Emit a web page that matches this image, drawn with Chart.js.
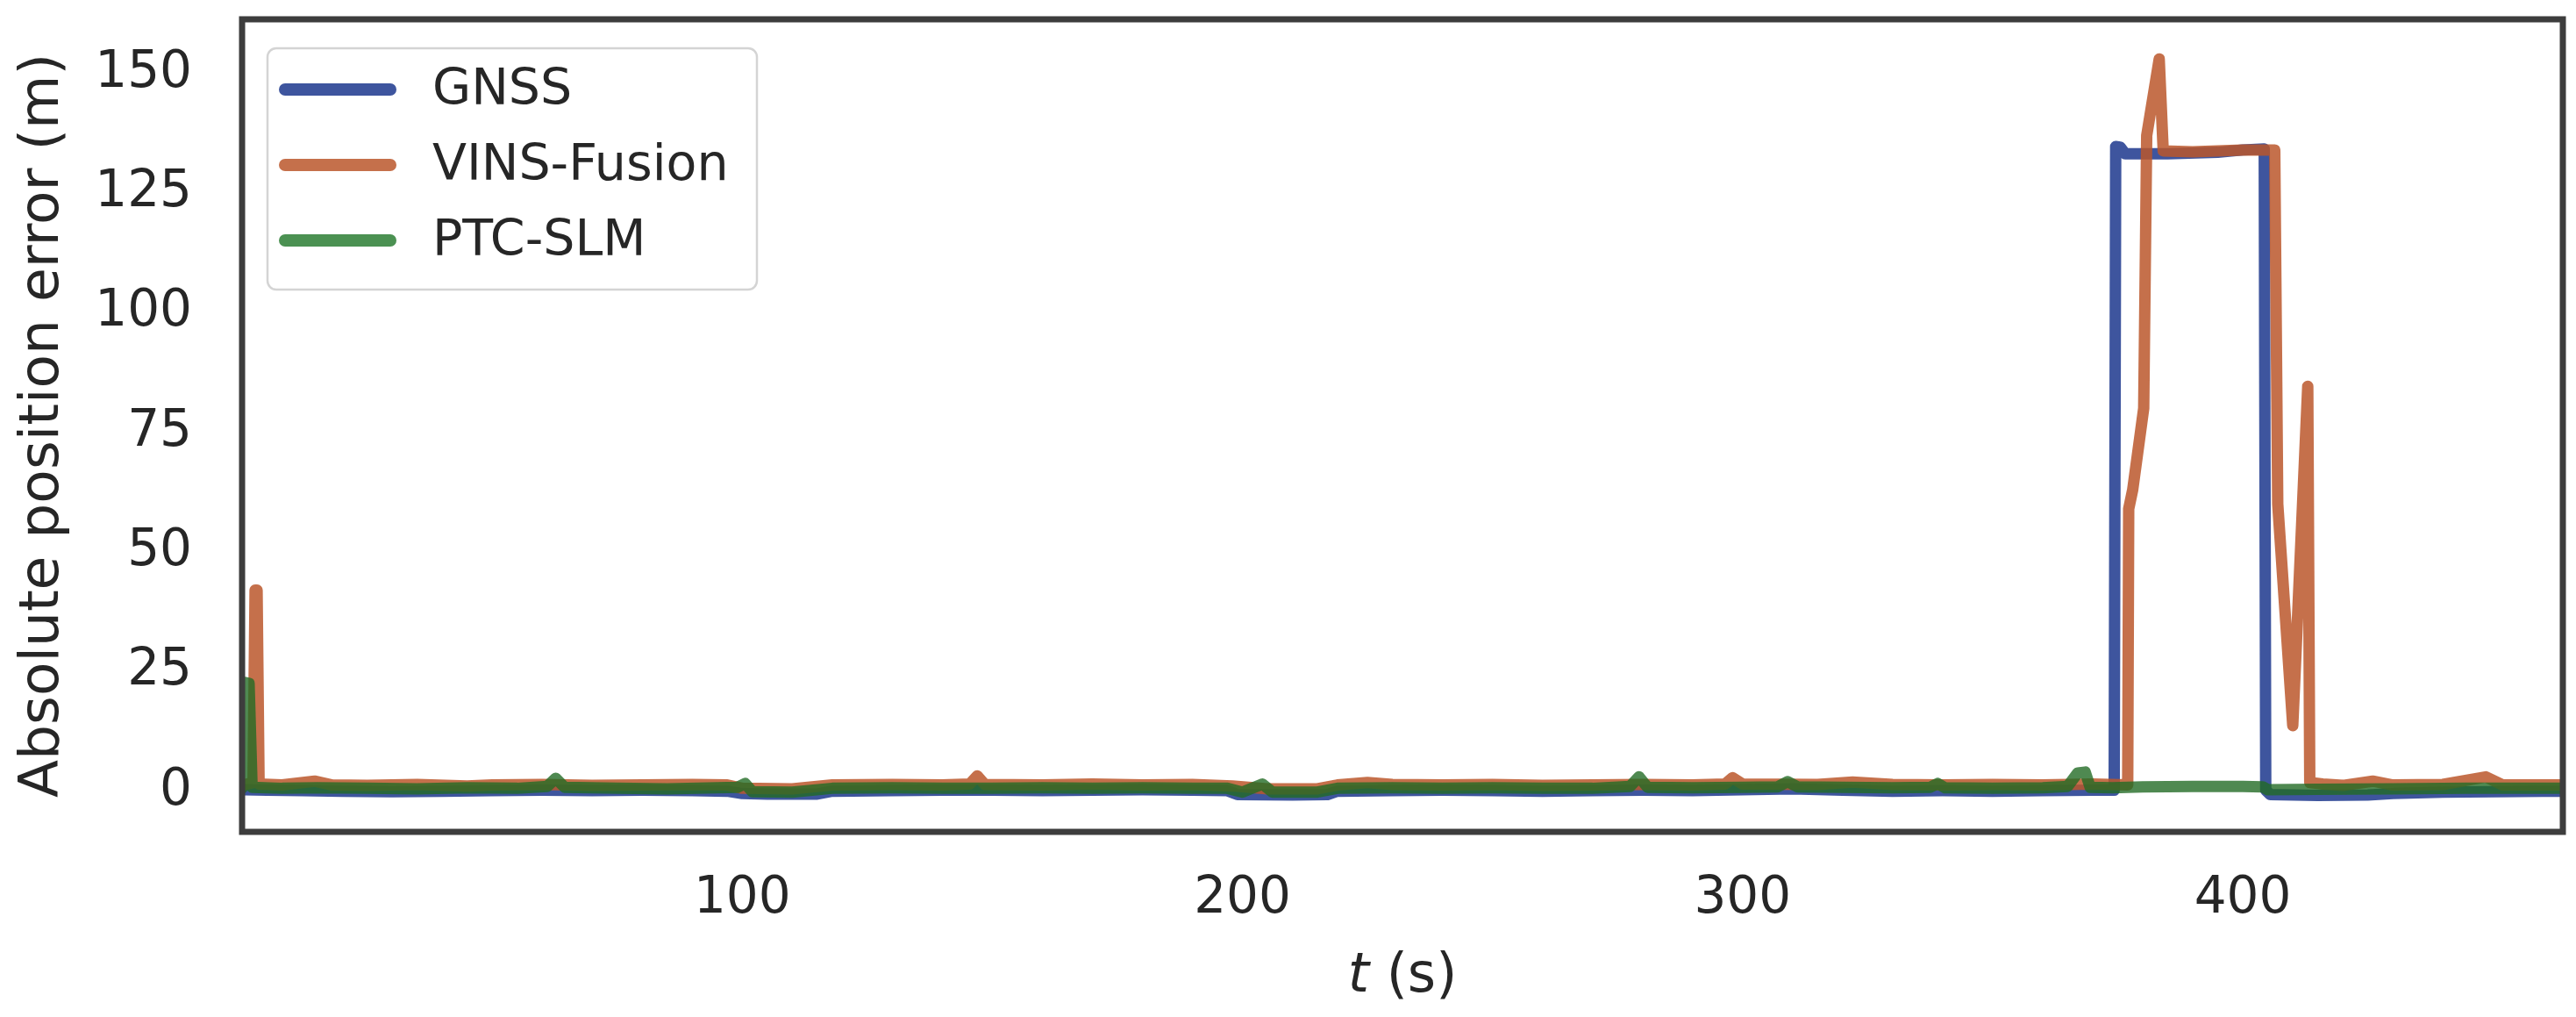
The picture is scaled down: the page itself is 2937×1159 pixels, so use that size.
<!DOCTYPE html>
<html>
<head>
<meta charset="utf-8">
<script src="https://cdn.jsdelivr.net/npm/chart.js@4.4.0/dist/chart.umd.min.js"></script>
<style>
  html, body { margin: 0; padding: 0; background: #fff; }
  #wrap { width: 2937px; height: 1159px; }
</style>
</head>
<body>
<div id="wrap"><canvas id="errChart" width="2937" height="1159"></canvas></div>
<script>
// series names
const seriesNames = ['GNSS', 'VINS-Fusion', 'PTC-SLM'];

// GNSS error (m) vs time (s)
const gnssT = [0.3, 5, 12, 20, 30, 40, 50, 60, 70, 80, 90, 97, 100, 105, 115, 118, 130, 140, 150, 160, 170, 180, 190, 197,
  199, 210, 217, 219, 230, 240, 250, 260, 270, 280, 290, 300, 310, 320, 330, 340, 350, 360, 370, 374.3,
  374.6, 375.5, 376.5, 385, 395, 400, 404.3, 404.6, 405.5, 415, 425, 430, 440, 450, 460, 464];
const gnssErr = [0.3, 0.2, 0.1, 0.0, -0.1, 0.0, 0.1, 0.2, 0.1, 0.2, 0.1, 0.0, -0.5, -0.6, -0.6, 0.0, 0.1, 0.2, 0.2, 0.1, 0.2, 0.3, 0.2, 0.1,
  -0.7, -0.8, -0.7, 0.0, 0.1, 0.2, 0.1, 0.0, 0.1, 0.2, 0.1, 0.3, 0.5, 0.2, 0.0, 0.1, 0.0, 0.1, 0.2, 0.2,
  134.7, 134.6, 133.2, 133.2, 133.5, 134.0, 134.2, 0.2, -0.7, -0.9, -0.8, -0.5, -0.2, -0.1, 0.0, 0.0];

// VINS-Fusion error (m) vs time (s)
const vinsT = [0.3, 2.2, 2.6, 3.0, 3.4, 8, 14.5, 18, 25, 35, 45, 50, 60, 70, 80, 90, 97, 100, 110, 118, 130, 140, 145.5, 147, 148.5,
  160, 170, 180, 190, 198, 205, 215, 219, 225, 230, 240, 250, 260, 270, 280, 290, 296.5, 298, 300, 315, 322, 330, 340,
  350, 360, 370, 377.0, 377.2, 378.0, 380.2, 380.8, 383.3, 384.1, 390, 395, 400, 406.4, 407.0, 410.0, 413.0,
  413.4, 416, 420, 426, 430, 440, 448.6, 452, 464];
const vinsErr = [1.3, 1.8, 42, 42, 1.5, 1.3, 2.1, 1.3, 1.2, 1.4, 1.1, 1.3, 1.4, 1.2, 1.3, 1.4, 1.3, 0.6, 0.5, 1.3, 1.4, 1.3, 1.5, 3.2, 1.4,
  1.3, 1.5, 1.3, 1.4, 1.1, 0.5, 0.5, 1.3, 1.8, 1.4, 1.3, 1.4, 1.2, 1.3, 1.4, 1.3, 1.5, 2.8, 1.5, 1.4, 1.9, 1.4, 1.3,
  1.4, 1.3, 1.5, 1.3, 59, 63, 80, 137, 153, 133.8, 133.6, 133.8, 134.0, 134.0, 60, 13.7, 84.6,
  1.8, 1.5, 1.2, 2.1, 1.3, 1.4, 3.0, 1.3, 1.3];

// PTC-SLM error (m) vs time (s)
const ptcT = [0, 0.6, 1.4, 2.0, 8, 15, 25, 35, 45, 55, 61, 62.7, 64.5, 75, 85, 95, 99, 100.6, 102, 110, 118, 130, 140, 150,
  160, 170, 180, 190, 197, 200, 204, 206, 215, 219, 230, 240, 250, 260, 270, 277.5, 279.3, 281, 290, 300, 307, 309,
  311, 320, 330, 337.5, 339, 340.5, 350, 360, 365, 367, 368.5, 369.5, 374, 380, 390, 400, 404, 405, 415, 430, 445, 464];
const ptcErr = [0.6, 22.7, 22.5, 0.8, 0.6, 0.7, 0.6, 0.5, 0.7, 0.6, 1.0, 2.7, 0.8, 0.6, 0.5, 0.7, 0.8, 1.6, -0.1, -0.2, 0.6, 0.7, 0.6, 0.6,
  0.7, 0.6, 0.7, 0.6, 0.6, -0.2, 1.5, -0.2, -0.2, 0.6, 0.7, 0.6, 0.7, 0.6, 0.6, 1.0, 3.0, 0.8, 0.7, 0.8, 0.9, 2.0,
  0.9, 0.8, 0.7, 0.8, 1.6, 0.7, 0.6, 0.7, 1.0, 3.8, 4.0, 0.8, 0.7, 0.9, 1.0, 1.0, 0.9, 0.3, 0.4, 0.5, 0.6, 0.6];

// axis ticks
const xTicks = [100, 200, 300, 400];
const yTicks = [0, 25, 50, 75, 100, 125, 150];

const lineColors = ['rgba(28, 55, 141, 0.85)', 'rgba(187, 87, 43, 0.85)', 'rgba(35, 108, 38, 0.8)'];
const legendColors = ['#3e559e', '#c5704b', '#4b9152'];
const textColor = '#262626';
const fontFamily = '"DejaVu Sans", sans-serif';

const zip = (ts, vs) => ts.map((t, i) => ({ x: t, y: vs[i] }));
const allSeries = [zip(gnssT, gnssErr), zip(vinsT, vinsErr), zip(ptcT, ptcErr)];

// plot frame (all four sides, like matplotlib spines)
const framePlugin = {
  id: 'frame',
  afterDatasetsDraw(chart) {
    const { ctx, chartArea: a } = chart;
    ctx.save();
    ctx.strokeStyle = '#3d3d3d';
    ctx.lineWidth = 7;
    ctx.strokeRect(a.left, a.top, a.right - a.left, a.bottom - a.top);
    ctx.restore();
  }
};

// legend box in upper-left corner of the plot
const legendPlugin = {
  id: 'innerLegend',
  afterDraw(chart) {
    const ctx = chart.ctx;
    const bx = 305, by = 55, bw = 558, bh = 275, r = 10;
    ctx.save();
    ctx.beginPath();
    ctx.roundRect(bx, by, bw, bh, r);
    ctx.fillStyle = 'rgba(255,255,255,0.8)';
    ctx.fill();
    ctx.lineWidth = 2.5;
    ctx.strokeStyle = '#d4d4d4';
    ctx.stroke();
    ctx.font = '57px ' + fontFamily;
    ctx.textBaseline = 'middle';
    chart.data.datasets.forEach((ds, i) => {
      const y = 102 + i * 86;
      ctx.beginPath();
      ctx.moveTo(325, y);
      ctx.lineTo(445, y);
      ctx.lineWidth = 14;
      ctx.lineCap = 'round';
      ctx.strokeStyle = legendColors[i];
      ctx.stroke();
      ctx.fillStyle = textColor;
      ctx.fillText(ds.label, 493, y + 2);
    });
    ctx.restore();
  }
};

// x axis title with italic t
const xTitlePlugin = {
  id: 'xTitle',
  afterDraw(chart) {
    const { ctx, chartArea: a } = chart;
    const partA = 't', partB = ' (s)';
    ctx.save();
    ctx.fillStyle = textColor;
    ctx.textBaseline = 'middle';
    ctx.font = 'oblique 62px ' + fontFamily;
    const wA = ctx.measureText(partA).width;
    ctx.font = '62px ' + fontFamily;
    const wB = ctx.measureText(partB).width;
    const x0 = (a.left + a.right) / 2 - (wA + wB) / 2;
    ctx.font = 'oblique 62px ' + fontFamily;
    ctx.fillText(partA, x0, 1114);
    ctx.font = '62px ' + fontFamily;
    ctx.fillText(partB, x0 + wA, 1114);
    ctx.restore();
  }
};

const tickFont = { family: fontFamily, size: 58 };

new Chart(document.getElementById('errChart'), {
  type: 'line',
  data: {
    datasets: seriesNames.map((name, i) => ({
      label: name,
      data: allSeries[i],
      borderColor: lineColors[i],
      backgroundColor: lineColors[i],
      borderWidth: 13,
      pointRadius: 0,
      tension: 0,
      borderJoinStyle: 'round',
      borderCapStyle: 'round',
      clip: 0,
      order: 3 - i
    }))
  },
  options: {
    responsive: false,
    animation: false,
    devicePixelRatio: 1,
    layout: { padding: { top: 22, right: 15, left: 0, bottom: 0 } },
    plugins: {
      legend: { display: false },
      tooltip: { enabled: false }
    },
    scales: {
      x: {
        type: 'linear',
        min: 0,
        max: 464,
        grid: { display: false, drawTicks: false },
        border: { display: false },
        afterBuildTicks: (scale) => { scale.ticks = xTicks.map(v => ({ value: v })); },
        afterFit: (scale) => { scale.height = 211; scale.paddingLeft = 0; scale.paddingRight = 0; },
        ticks: { font: tickFont, color: textColor, padding: 42, maxRotation: 0, autoSkip: false }
      },
      y: {
        min: -8.5,
        max: 161.3,
        grid: { display: false, drawTicks: false },
        border: { display: false },
        afterBuildTicks: (scale) => { scale.ticks = yTicks.map(v => ({ value: v })); },
        afterFit: (scale) => { scale.width = 276; scale.paddingTop = 0; scale.paddingBottom = 0; },
        ticks: { font: tickFont, color: textColor, padding: 57 },
        title: {
          display: true,
          text: 'Absolute position error (m)',
          font: { family: fontFamily, size: 63 },
          color: textColor,
          padding: { top: 12, bottom: 0 }
        }
      }
    }
  },
  plugins: [framePlugin, legendPlugin, xTitlePlugin]
});
</script>
</body>
</html>
